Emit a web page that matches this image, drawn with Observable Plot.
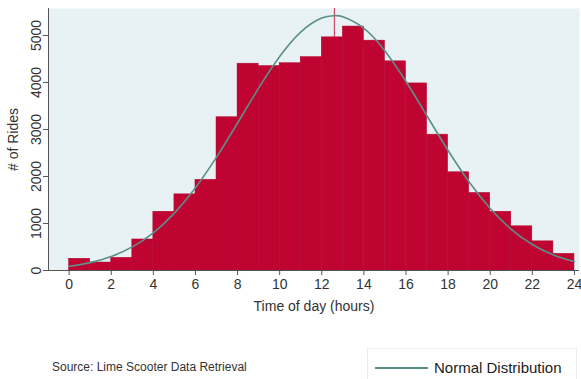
<!DOCTYPE html>
<html>
<head>
<meta charset="utf-8">
<script src="https://cdn.jsdelivr.net/npm/d3@7"></script>
<script src="https://cdn.jsdelivr.net/npm/@observablehq/plot@0.6"></script>
<style>
  html, body { margin: 0; padding: 0; overflow: hidden; background: #fff; width: 581px; height: 379px; }
  #footer { position: relative; height: 61px; font-family: "Liberation Sans", Arial, sans-serif; color: #333; }
  #source { position: absolute; left: 52px; top: 42px; font-size: 12px; line-height: 14px; white-space: nowrap; }
  #legend { position: absolute; left: 367px; top: 30px; width: 208px; height: 40px; border: 1px solid #e6eef0; background: #fff; }
  #legend .swatch { position: absolute; left: 7px; top: 18px; width: 53px; height: 2px; background: #5b9088; }
  #legend .lab { position: absolute; left: 66px; top: 10px; font-size: 15px; line-height: 18px; white-space: nowrap; color: #222; }
</style>
</head>
<body>
<div id="chart"></div>
<div id="footer">
  <div id="source">Source: Lime Scooter Data Retrieval</div>
  <div id="legend"><div class="swatch"></div><div class="lab">Normal Distribution</div></div>
</div>
<script>
// Histogram bins (hour of day, width 1) and ride counts
const binStarts = [0,1,2,3,4,5,6,7,8,9,10,11,12,13,14,15,16,17,18,19,20,21,22,23];
const rides = [250,170,270,660,1250,1620,1930,3260,4400,4350,4410,4540,4960,5190,4890,4450,3980,2890,2090,1650,1250,940,620,355];

// Normal distribution curve
const curveHours = [0,1,2,3,4,5,6,7,8,9,10,11,12,12.6,13,14,15,16,17,18,19,20,21,22,23,24];
const curveRides = [90,168,298,502,802,1220,1760,2411,3138,3879,4552,5073,5370,5420,5398,5153,4671,4021,3287,2552,1882,1318,876,553,332,189];

const meanHour = 12.6;
const xTicks = [0,2,4,6,8,10,12,14,16,18,20,22,24];
const yTicks = [0,1000,2000,3000,4000,5000];

const bars = binStarts.map((s, i) => ({start: s, end: s + 1, rides: rides[i]}));
const curve = curveHours.map((h, i) => ({hour: h, rides: curveRides[i]}));

const xMin = -0.98, xMax = 24.24;

const chart = Plot.plot({
  width: 581,
  height: 318,
  marginTop: 8,
  marginBottom: 48,
  marginLeft: 48,
  marginRight: 2,
  x: {domain: [xMin, xMax]},
  y: {domain: [0, 5574]},
  style: {fontFamily: "'Liberation Sans', Arial, sans-serif", color: "#333", background: "#fff"},
  marks: [
    Plot.frame({fill: "#e8f1f3", stroke: null}),
    Plot.ruleX([meanHour], {stroke: "#d0486a", strokeWidth: 1.2}),
    Plot.rectY(bars, {x1: "start", x2: "end", y: "rides", fill: "#c00432", stroke: "#b3052f", strokeWidth: 0.5}),
    Plot.line(curve, {x: "hour", y: "rides", curve: "natural", stroke: "#5b9088", strokeWidth: 1.6}),
    Plot.ruleX([xMin], {stroke: "#555", strokeWidth: 1}),
    Plot.ruleY([0], {stroke: "#555", strokeWidth: 1}),
    Plot.axisX({ticks: xTicks, tickFormat: d3.format("d"), tickSize: 5, tickPadding: 4, fontSize: 14, stroke: "#555",
      label: "Time of day (hours)", labelAnchor: "center", labelArrow: "none", labelOffset: 40}),
    Plot.axisY({ticks: yTicks, tickFormat: d3.format("d"), tickSize: 5, tickPadding: 3, tickRotate: -90, fontSize: 14, stroke: "#555",
      label: "# of Rides", labelAnchor: "center", labelArrow: "none", labelOffset: 40})
  ]
});
document.getElementById("chart").appendChild(chart);
</script>
</body>
</html>
